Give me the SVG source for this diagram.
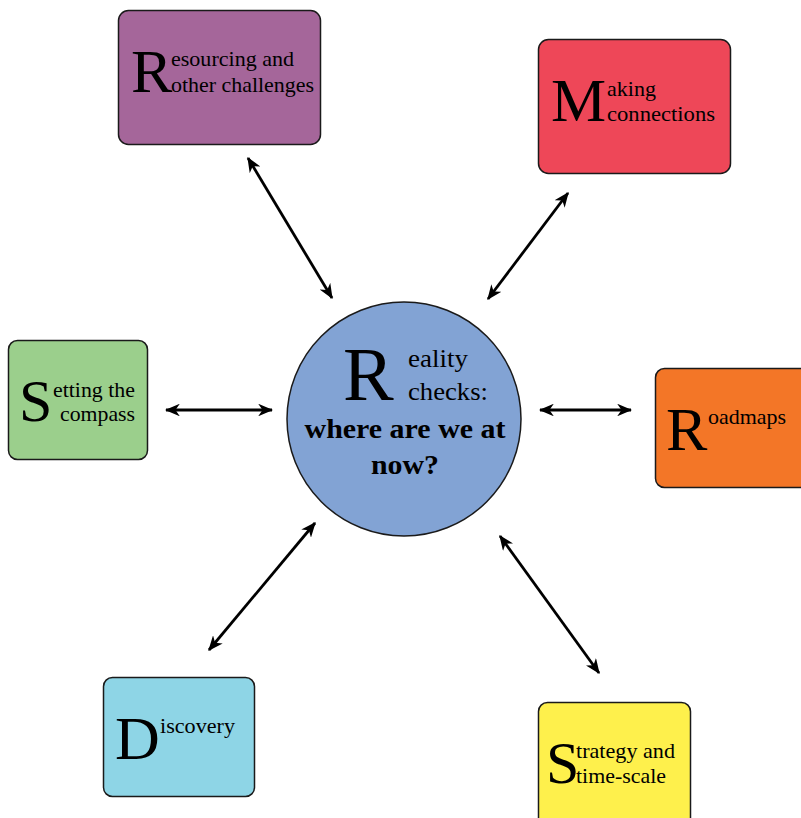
<svg xmlns="http://www.w3.org/2000/svg" width="801" height="818" viewBox="0 0 801 818">
<style>
.box{stroke:#1a1a1a;stroke-width:1.5}
.t{font-family:"Liberation Serif","DejaVu Serif",serif;fill:#000}
.big{font-size:62px}
.sm{font-size:21px}
.conn{stroke:#000;stroke-width:2.8;fill:none;marker-start:url(#ah);marker-end:url(#ah)}
</style>
<defs>
<marker id="ah" viewBox="0 0 12 10" refX="11" refY="5" markerWidth="5.4" markerHeight="4.5" orient="auto-start-reverse" markerUnits="strokeWidth">
<path d="M0,0 L12,5 L0,10 L3.5,5 z" fill="#000"/>
</marker>
</defs>
<rect width="801" height="818" fill="#fff"/>
<g id="connectors">
<line class="conn" x1="248" y1="158" x2="332" y2="298"/>
<line class="conn" x1="568" y1="193" x2="488" y2="299"/>
<line class="conn" x1="166" y1="410" x2="272" y2="410"/>
<line class="conn" x1="540" y1="410" x2="631" y2="410"/>
<line class="conn" x1="209" y1="650" x2="315" y2="523"/>
<line class="conn" x1="500" y1="536" x2="599" y2="673"/>
</g>
<g id="center">
<circle class="box" cx="404" cy="419" r="117" fill="#82a3d4"/>
<text class="t" x="343" y="400" font-size="76">R</text>
<text class="t" x="408" y="367" font-size="26" textLength="60" lengthAdjust="spacingAndGlyphs">eality</text>
<text class="t" x="408" y="400" font-size="26" textLength="80" lengthAdjust="spacingAndGlyphs">checks:</text>
<text class="t" x="405" y="438" font-size="27" font-weight="bold" text-anchor="middle" textLength="201" lengthAdjust="spacingAndGlyphs">where are we at</text>
<text class="t" x="405" y="474" font-size="27" font-weight="bold" text-anchor="middle" textLength="68" lengthAdjust="spacingAndGlyphs">now?</text>
</g>
<g id="resourcing">
<rect class="box" x="118.5" y="10.5" width="202" height="134" rx="10" fill="#a5669a"/>
<text class="t big" x="131" y="92">R</text>
<text class="t sm" x="171" y="66" textLength="123" lengthAdjust="spacingAndGlyphs">esourcing and</text>
<text class="t sm" x="171" y="92" textLength="143" lengthAdjust="spacingAndGlyphs">other challenges</text>
</g>
<g id="making">
<rect class="box" x="538.5" y="39.5" width="192" height="134" rx="10" fill="#ee4758"/>
<text class="t big" x="551" y="121">M</text>
<text class="t sm" x="607" y="96" textLength="49" lengthAdjust="spacingAndGlyphs">aking</text>
<text class="t sm" x="607" y="121" textLength="108" lengthAdjust="spacingAndGlyphs">connections</text>
</g>
<g id="setting">
<rect class="box" x="8.5" y="340.5" width="139" height="119" rx="9" fill="#9bcf8c"/>
<text class="t" x="19" y="421" font-size="60">S</text>
<text class="t sm" x="53" y="397" textLength="82" lengthAdjust="spacingAndGlyphs">etting the</text>
<text class="t sm" x="60" y="421" textLength="75" lengthAdjust="spacingAndGlyphs">compass</text>
</g>
<g id="roadmaps">
<rect class="box" x="655.5" y="368.5" width="155" height="119" rx="9" fill="#f37627"/>
<text class="t big" x="666" y="450">R</text>
<text class="t sm" x="708" y="424" textLength="78" lengthAdjust="spacingAndGlyphs">oadmaps</text>
</g>
<g id="discovery">
<rect class="box" x="103.5" y="677.5" width="151" height="119" rx="9" fill="#8ed5e6"/>
<text class="t big" x="115" y="759">D</text>
<text class="t sm" x="160" y="733" textLength="75" lengthAdjust="spacingAndGlyphs">iscovery</text>
</g>
<g id="strategy">
<rect class="box" x="538.5" y="702.5" width="152" height="125" rx="9" fill="#fef04c"/>
<text class="t" x="546" y="783" font-size="60">S</text>
<text class="t sm" x="576" y="758" textLength="99" lengthAdjust="spacingAndGlyphs">trategy and</text>
<text class="t sm" x="576" y="783" textLength="90" lengthAdjust="spacingAndGlyphs">time-scale</text>
</g>
</svg>
